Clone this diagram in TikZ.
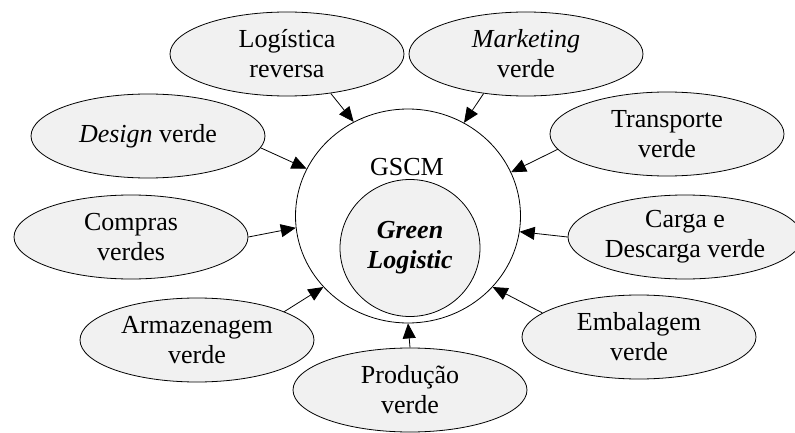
\documentclass[tikz,border=0pt]{standalone}
\usepackage{fontspec}
\setmainfont{Liberation Serif}
\usetikzlibrary{shapes.geometric,arrows.meta}
\definecolor{lightfill}{gray}{0.945}
\begin{document}
\begin{tikzpicture}[x=1pt,y=1pt,
	topic/.style={ellipse,draw,fill=lightfill,line width=0.8pt,minimum width=234pt,minimum height=84pt,inner sep=0pt,align=center,font=\fontsize{26}{30}\selectfont},
	hub/.style={ellipse,draw,fill=white,line width=0.8pt,minimum width=225pt,minimum height=214pt,inner sep=0pt},
	core/.style={ellipse,draw,fill=lightfill,line width=0.8pt,minimum width=140pt,minimum height=137pt,inner sep=0pt,align=center,font=\fontsize{26}{30}\selectfont\bfseries\itshape},
	feed/.style={-{Triangle[length=15pt,width=13pt]},line width=0.8pt}]
	\useasboundingbox (0,0) rectangle (795,432);
	\clip (0,0) rectangle (795,432);

	\node[hub] (gscm) at (408,216) {};
	\node[font=\fontsize{26}{30}\selectfont] (gscmlabel) at (407,265) {GSCM};
	\node[core] (green) at (410,184) {Green\\Logistic};

	\node[topic] (logrev) at (287,378) {Logística\\reversa};
	\node[topic] (marketing) at (526,378) {\textit{Marketing}\\verde};
	\node[topic] (design) at (148,296) {\textit{Design} verde};
	\node[topic] (transporte) at (667,298) {Transporte\\verde};
	\node[topic] (compras) at (131,195) {Compras\\verdes};
	\node[topic] (carga) at (685,195) {Carga e\\Descarga verde};
	\node[topic] (armazem) at (197,92) {Armazenagem\\verde};
	\node[topic] (embalagem) at (639,95) {Embalagem\\verde};
	\node[topic] (producao) at (410,42) {Produção\\verde};

	\foreach \src/\from/\to in {logrev/-42/120,marketing/223/59,design/-6/155,transporte/188/23,compras/0/186,carga/180/-8,armazem/18/220,embalagem/166/-40,producao/90/270}{
		\draw[feed] (\src.\from) -- (gscm.\to);
	}
\end{tikzpicture}
\end{document}
